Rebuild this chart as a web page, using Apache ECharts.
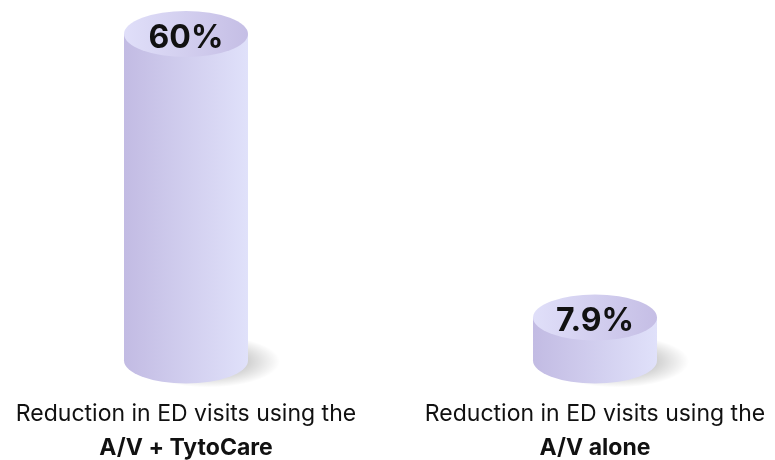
<!DOCTYPE html>
<html>
<head>
<meta charset="utf-8">
<script src="https://cdn.jsdelivr.net/npm/echarts@6/dist/echarts.min.js"></script>
<style>html,body{margin:0;padding:0;background:#fff;}#c{width:775px;height:460px;}</style>
</head>
<body>
<div id="c"></div>
<script>
const categoryLines = ['Reduction in ED visits using the', 'Reduction in ED visits using the'];
const categoryBold = ['A/V + TytoCare', 'A/V alone'];
const values = [60, 7.9];
const valueLabels = ['60%', '7.9%'];

const chart = echarts.init(document.getElementById('c'));
const RX = 62, RY = 23;

function renderItem(params, api) {
  const idx = api.value(0);
  const top = api.coord([idx, api.value(1)]);
  const base = api.coord([idx, 0]);
  const cx = top[0], yT = top[1], yB = base[1];
  const bodyStops = [{offset: 0, color: '#c2bbe3'}, {offset: 1, color: '#e0e1fa'}];
  const bodyGrad = new echarts.graphic.LinearGradient(0, 0, 1, 0, bodyStops);
  const bodyGrad2 = new echarts.graphic.LinearGradient(0, 0, 1, 0, bodyStops);
  const topGrad = new echarts.graphic.LinearGradient(0, 0, 1, 0,
    [{offset: 0, color: '#e0dff9'}, {offset: 1, color: '#c5bee5'}]);
  const shadowGrad = new echarts.graphic.RadialGradient(0.5, 0.5, 0.5,
    [{offset: 0, color: 'rgba(0,0,0,0.38)'}, {offset: 0.55, color: 'rgba(0,0,0,0.18)'}, {offset: 1, color: 'rgba(0,0,0,0)'}]);
  return {
    type: 'group',
    children: [
      {type: 'circle', x: cx + 22, y: yB + 1, scaleY: 0.36, shape: {cx: 0, cy: 0, r: 72}, style: {fill: shadowGrad}},
      {type: 'rect', shape: {x: cx - RX, y: yT, width: 2 * RX, height: yB - yT}, style: {fill: bodyGrad}},
      {type: 'circle', x: cx, y: yB, scaleY: RY / RX, shape: {cx: 0, cy: 0, r: RX}, style: {fill: bodyGrad2}},
      {type: 'circle', x: cx, y: yT, scaleY: RY / RX, shape: {cx: 0, cy: 0, r: RX}, style: {fill: topGrad}},
      {type: 'text', x: cx, y: yT + 4, style: {text: valueLabels[idx], font: 'bold 32px Inter', fill: '#111',
        align: 'center', verticalAlign: 'middle', textAlign: 'center', textVerticalAlign: 'middle'}}
    ]
  };
}

chart.setOption({
  animation: false,
  backgroundColor: '#fff',
  grid: {left: 186, right: 180, top: 34, bottom: 99},
  xAxis: {
    type: 'category',
    data: categoryLines.map((l, i) => l),
    boundaryGap: false,
    axisLine: {show: false}, axisTick: {show: false},
    axisLabel: {
      margin: 37,
      interval: 0,
      formatter: (v, i) => '{a|' + categoryLines[i] + '}\n{b|' + categoryBold[i] + '}',
      rich: {
        a: {fontFamily: 'Inter', fontSize: 23, color: '#111', lineHeight: 34},
        b: {fontFamily: 'Inter', fontSize: 23, fontWeight: 'bold', color: '#111', lineHeight: 34}
      }
    }
  },
  yAxis: {type: 'value', min: 0, max: 60, show: false, splitLine: {show: false}},
  series: [{
    type: 'custom',
    renderItem: renderItem,
    clip: false,
    data: values.map((v, i) => [i, v])
  }]
});
</script>
</body>
</html>
